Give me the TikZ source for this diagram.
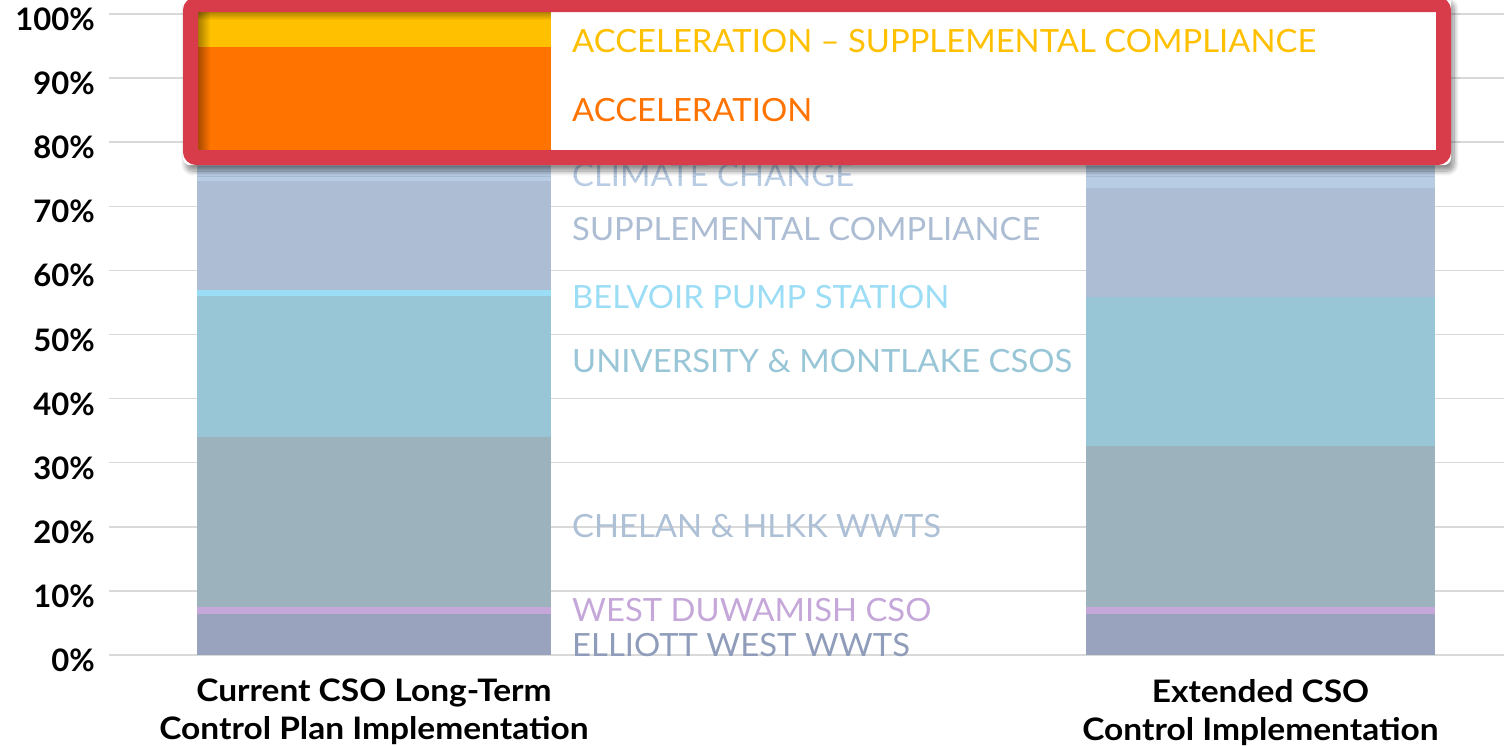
\documentclass[tikz,border=0pt]{standalone}
\usepackage{fontspec}
\setmainfont{Lato}
\newfontfamily\keyfont[FakeStretch=1.025]{Lato}
\newfontfamily\catfont[FakeStretch=1.08]{Lato}
\usetikzlibrary{positioning, shadows.blur, fadings}

\definecolor{gridgray}{HTML}{D9D9D9}
\definecolor{calloutred}{HTML}{D83C4B}
\definecolor{accyellow}{HTML}{FFC000}
\definecolor{accorange}{HTML}{FF7300}
\definecolor{climate}{HTML}{B8CCE4}
\definecolor{supcomp}{HTML}{ADBDD3}
\definecolor{belvoir}{HTML}{9CDDF6}
\definecolor{univ}{HTML}{99C6D7}
\definecolor{chelan}{HTML}{9CB3BD}
\definecolor{chelantext}{HTML}{ADC0D6}
\definecolor{duwamish}{HTML}{C5A8D9}
\definecolor{elliott}{HTML}{99A3BE}
\definecolor{elliotttext}{HTML}{8F9DBA}

\tikzset{
    gridline/.style = {draw=gridgray, line width=1.5pt},
    ticknode/.style = {anchor=base east, inner sep=0em, font=\bfseries\fontsize{31}{36}\selectfont},
    keynode/.style  = {anchor=base west, inner sep=0em, font=\keyfont\fontsize{32}{38}\selectfont},
    catnode/.style  = {inner sep=0em, align=center, font=\catfont\bfseries\fontsize{31}{38}\selectfont},
    calloutbox/.style = {draw=calloutred, line width=15pt, rounded corners=6pt}
}

\begin{document}
\begin{tikzpicture}[x=1pt, y=-1pt]
\useasboundingbox (0,0) rectangle (1504,745);

% grid and percent axis
\foreach \p in {0,...,10} {
    \pgfmathsetmacro{\gy}{655-64.1*\p}
    \pgfmathtruncatemacro{\pv}{10*\p}
    \draw[gridline] (109,\gy) -- (1504,\gy);
    \node[ticknode, name=tick\p] at (95,\gy+16.5) {\pv\%};
}

% current plan bar
\fill[elliott]  (197,655) rectangle (551,614);
\fill[duwamish] (197,614) rectangle (551,607);
\fill[chelan]   (197,607) rectangle (551,437);
\fill[univ]     (197,437) rectangle (551,296);
\fill[belvoir]  (197,296) rectangle (551,290);
\fill[supcomp]  (197,290) rectangle (551,181);
\fill[climate]  (197,181) rectangle (551,150);

% extended bar
\fill[elliott]  (1086,655) rectangle (1435,614);
\fill[duwamish] (1086,614) rectangle (1435,607);
\fill[chelan]   (1086,607) rectangle (1435,446);
\fill[univ]     (1086,446) rectangle (1435,297);
\fill[supcomp]  (1086,297) rectangle (1435,188);
\fill[climate]  (1086,188) rectangle (1435,150);

% legend texts
\node[keynode, name=Climate, text=climate]      at (572,186) {CLIMATE CHANGE};
\node[keynode, name=SupComp, text=supcomp]      at (572,240) {SUPPLEMENTAL COMPLIANCE};
\node[keynode, name=Belvoir, text=belvoir]      at (572,308) {BELVOIR PUMP STATION};
\node[keynode, name=Univ, text=univ]            at (572,372) {UNIVERSITY \& MONTLAKE CSOS};
\node[keynode, name=Chelan, text=chelantext]    at (572,537) {CHELAN \& HLKK WWTS};
\node[keynode, name=Duwamish, text=duwamish]    at (572,621) {WEST DUWAMISH CSO};
\node[keynode, name=Elliott, text=elliotttext]  at (572,656) {ELLIOTT WEST WWTS};

% category labels
\coordinate (CurBase) at (374,655);
\coordinate (ExtBase) at (1260.5,655);
\node[catnode, name=CurPlan, below=24pt of CurBase] {Current CSO Long-Term\\Control Plan Implementation};
\node[catnode, name=ExtPlan, below=24pt of ExtBase] {Extended CSO\\Control Implementation};

% callout
\path[fill=white, rounded corners=7pt,
    blur shadow={shadow xshift=3pt, shadow yshift=-6pt, shadow opacity=45, shadow blur steps=10, shadow blur radius=5pt}]
    (183,-4) rectangle (1451,165);
\fill[accorange]  (198,150) rectangle (551,47);
\fill[accyellow]  (198,47) rectangle (551,12);
\fill[black, opacity=0.35, path fading=east]  (198,12) rectangle (210,150);
\fill[black, opacity=0.30, path fading=south] (198,12) rectangle (551,20);
\node[keynode, name=AccSup, text=accyellow] at (572,52) {ACCELERATION – SUPPLEMENTAL COMPLIANCE};
\node[keynode, name=Acc, text=accorange]    at (572,121) {ACCELERATION};
\draw[calloutbox] (190.5,4.5) rectangle (1443.5,157.5);
\end{tikzpicture}
\end{document}
